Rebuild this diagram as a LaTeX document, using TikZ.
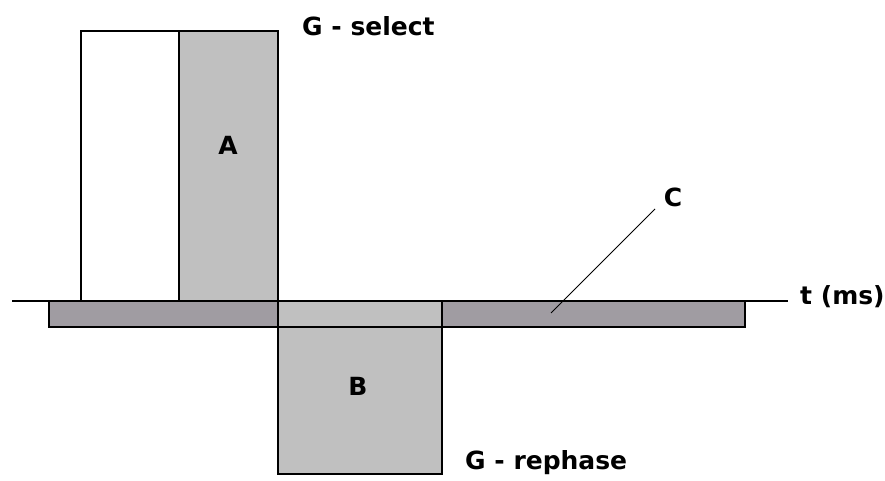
\documentclass[tikz,border=0pt]{standalone}
\usepackage{fontspec}
\setmainfont{DejaVu Sans}
\begin{document}
\begin{tikzpicture}[x=1pt,y=-1pt,
  box/.style={draw=black,line width=1.6pt},
  lbl/.style={font=\bfseries\fontsize{25}{27}\selectfont,inner sep=0pt}]
\definecolor{lightgr}{HTML}{C0C0C0}
\definecolor{darkgr}{HTML}{A09CA2}
\useasboundingbox (0,0) rectangle (885,480);
% time axis
\coordinate (ax0) at (12,301);
\coordinate (ax1) at (788,301);
\draw[line width=1.3pt] (ax0) -- (ax1);
% slice-select lobes
\draw[box,fill=white] (81,31) rectangle (179,301);
\draw[box,fill=lightgr] (179,31) rectangle (278,301);
% baseline bars
\draw[box,fill=darkgr] (49,301) rectangle (278,327);
\draw[box,fill=lightgr] (278,301) rectangle (442,327);
\draw[box,fill=darkgr] (442,301) rectangle (745,327);
% rephase lobe
\draw[box,fill=lightgr] (278,327) rectangle (442,474);
% labels
\node[lbl] (A) at (228,145) {A};
\node[lbl] (B) at (358,386) {B};
\node[lbl] (C) at (673,197) {C};
\node[lbl,anchor=west] (t) at (800,297) {t (ms)};
\node[lbl,anchor=west] (gs) at (302,26) {G - select};
\node[lbl,anchor=west] (gr) at (465,463) {G - rephase};
% pointer to C
\coordinate (cend) at (551,313);
\draw[line width=1pt] (cend) -- (655,209);
\end{tikzpicture}
\end{document}
